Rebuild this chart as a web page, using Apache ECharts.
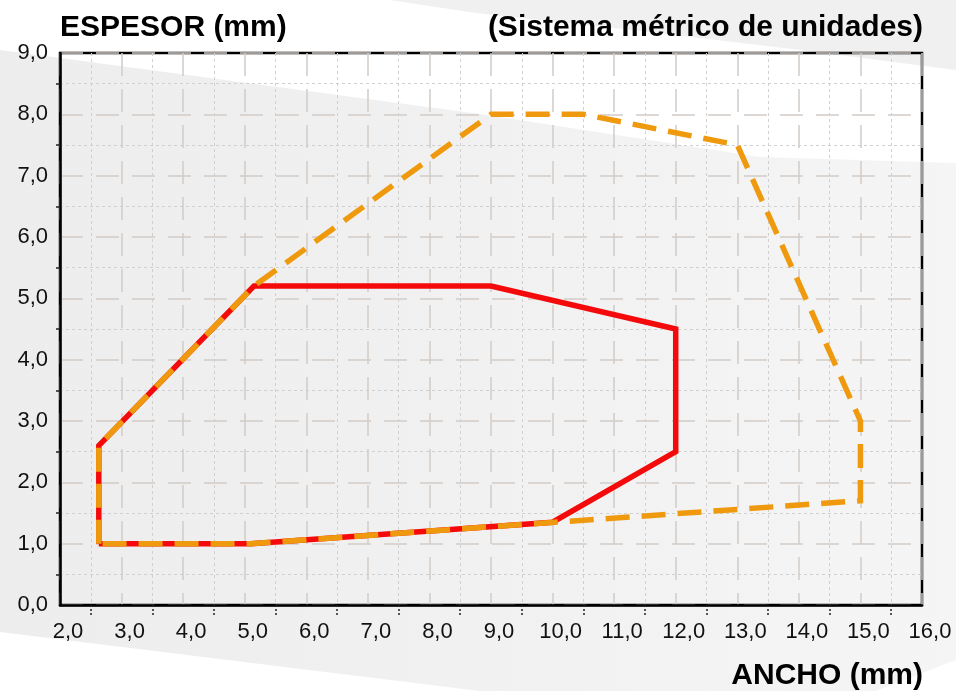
<!DOCTYPE html>
<html><head><meta charset="utf-8">
<script src="https://cdn.jsdelivr.net/npm/echarts/dist/echarts.min.js"></script>
<style>html,body{margin:0;padding:0;background:#fff}#c{width:956px;height:691px}</style>
</head><body><div id="c"></div>
<script>
// ---- data ----
const xTickLabels = ['2,0','3,0','4,0','5,0','6,0','7,0','8,0','9,0','10,0','11,0','12,0','13,0','14,0','15,0','16,0'];
const yTickLabels = ['0,0','1,0','2,0','3,0','4,0','5,0','6,0','7,0','8,0','9,0'];
const redX    = [2.63, 2.63, 5.15, 9.0, 12.0, 12.0, 10.0, 5.1, 2.63];
const redY    = [1.0,  2.6,  5.2,  5.2, 4.5,  2.5,  1.35, 1.0, 1.0];
const orangeX = [2.63, 2.63, 5.15, 9.0, 10.5, 13.0, 15.0, 15.0, 5.1, 2.63];
const orangeY = [1.0,  2.6,  5.2,  8.0, 8.0,  7.5,  3.0,  1.7,  1.0, 1.0];
const titleY = 'ESPESOR (mm)';
const titleRight = '(Sistema métrico de unidades)';
const titleX = 'ANCHO (mm)';

const FONT = '"Liberation Sans", Arial, sans-serif';
const zip = (xs, ys) => xs.map((x, i) => [x, ys[i]]);

const chart = echarts.init(document.getElementById('c'), null, {renderer: 'canvas'});
chart.setOption({
  animation: false,
  backgroundColor: '#ffffff',
  graphic: [
    {type: 'polygon', z: -100, silent: true,
     shape: {points: [[390,0],[956,0],[956,70],[800,50],[650,32],[476,13]]},
     style: {fill: '#f0f0f0'}},
    {type: 'polygon', z: -100, silent: true,
     shape: {points: [[0,50],[480,114],[760,157],[956,163],[956,660],[876,691],[480,691],[0,632]]},
     style: {fill: new echarts.graphic.LinearGradient(0,0,1,0,[{offset:0,color:'#ededed'},{offset:1,color:'#f5f5f5'}])}},
    {type: 'text', z: 10, silent: true,
     style: {text: titleY, x: 60, y: 28, font: 'bold 30px ' + FONT, fill: '#000', align: 'left', verticalAlign: 'middle'}},
    {type: 'text', z: 10, silent: true,
     style: {text: titleRight, x: 923, y: 28, font: 'bold 30px ' + FONT, fill: '#000', align: 'right', verticalAlign: 'middle'}},
    {type: 'text', z: 10, silent: true,
     style: {text: titleX, x: 923, y: 676, font: 'bold 30px ' + FONT, fill: '#000', align: 'right', verticalAlign: 'middle'}}
  ],
  grid: {left: 60, right: 34, top: 53, bottom: 86, show: true, borderColor: '#000', borderWidth: 2.5, backgroundColor: 'transparent'},
  xAxis: {
    type: 'value', min: 2, max: 16, interval: 1,
    axisLine: {show: true, lineStyle: {color: '#000', width: 2.5}},
    axisTick: {show: false},
    minorTick: {show: true, splitNumber: 2, length: 11, lineStyle: {color: '#222', width: 1.5, type: [2,2]}},
    axisLabel: {fontFamily: FONT, fontSize: 22, color: '#111', margin: 16, padding: [0,0,0,16],
      formatter: v => xTickLabels[Math.round(v - 2)]},
    splitLine: {show: true, lineStyle: {color: '#d2ccc6', width: 1.5, type: [23,13]}},
    minorSplitLine: {show: true, lineStyle: {color: '#d0d0d0', width: 1, type: [3,3]}}
  },
  yAxis: {
    type: 'value', min: 0, max: 9, interval: 1,
    axisLine: {show: true, lineStyle: {color: '#000', width: 2.5}},
    axisTick: {show: false},
    minorTick: {show: true, splitNumber: 2, length: 4, lineStyle: {color: '#222', width: 1.5}},
    axisLabel: {fontFamily: FONT, fontSize: 22, color: '#111', margin: 12, padding: [10,0,0,0],
      formatter: v => yTickLabels[Math.round(v)]},
    splitLine: {show: true, lineStyle: {color: '#d2ccc6', width: 1.5, type: [23,13]}},
    minorSplitLine: {show: true, lineStyle: {color: '#d0d0d0', width: 1, type: [3,3]}}
  },
  series: [
    {type: 'line', data: zip(redX, redY), symbol: 'none', z: 3,
     lineStyle: {color: '#f40a0a', width: 5.5, join: 'miter', cap: 'butt'}},
    {type: 'line', data: zip(orangeX, orangeY), symbol: 'none', z: 4,
     lineStyle: {color: '#ef9a0e', width: 5.5, type: [24,12], join: 'miter', cap: 'butt'}}
  ]
});
</script>
</body></html>
